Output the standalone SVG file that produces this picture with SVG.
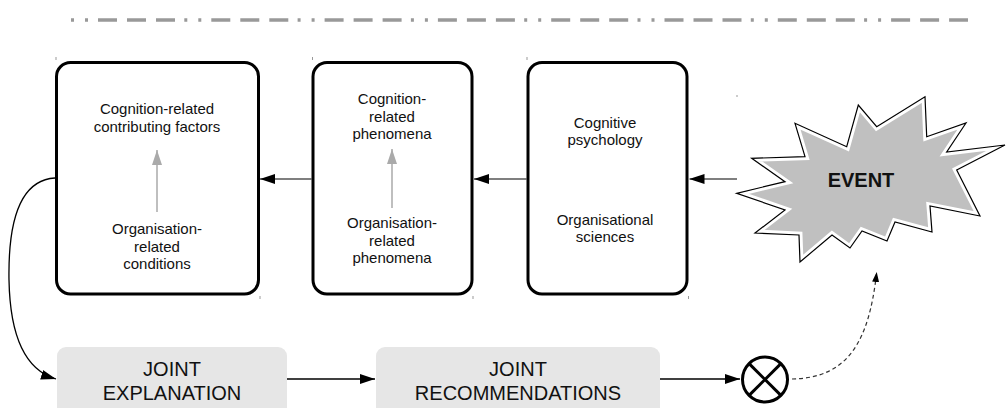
<svg xmlns="http://www.w3.org/2000/svg" width="1007" height="408" viewBox="0 0 1007 408">
<style>
.box{fill:#fff;stroke:#000;stroke-width:3}
.jbox{fill:#e6e6e6;stroke:none}
.t{font-family:"Liberation Sans",Arial,sans-serif;font-size:15px;fill:#111;text-anchor:middle}
.tb{font-family:"Liberation Sans",Arial,sans-serif;font-size:20px;fill:#111;text-anchor:middle}
.ev{font-family:"Liberation Sans",Arial,sans-serif;font-size:20px;font-weight:bold;fill:#111;text-anchor:middle}
.ga{stroke:#aaa;stroke-width:1.5;fill:none;marker-end:url(#gh)}
.ca{stroke:#555;stroke-width:1.4;fill:none;marker-end:url(#bh)}
.ka{stroke:#000;stroke-width:1.3;fill:none;marker-end:url(#bh)}
.tick{stroke:#999;stroke-width:1}
</style>
<defs>
<marker id="bh" markerUnits="userSpaceOnUse" markerWidth="15" markerHeight="10" refX="15" refY="5" orient="auto" viewBox="0 0 15 10"><path d="M0,0 L15,5 L0,10 z" fill="#000"/></marker>
<marker id="gh" markerUnits="userSpaceOnUse" markerWidth="15" markerHeight="10" refX="15" refY="5" orient="auto" viewBox="0 0 15 10"><path d="M0,0 L15,5 L0,10 z" fill="#aaa"/></marker>
<marker id="dh" markerUnits="userSpaceOnUse" markerWidth="10" markerHeight="7" refX="10" refY="3.5" orient="auto" viewBox="0 0 10 7"><path d="M0,0 L10,3.5 L0,7 z" fill="#000"/></marker>
</defs>
<rect width="1007" height="408" fill="#fff"/>
<line x1="71" y1="20" x2="968" y2="20" stroke="#999" stroke-width="3.5" stroke-dasharray="3 11 3 10 19 10 19 10 19 9.3"/>

<g id="node-factors">
<rect class="box" x="56.5" y="62.5" width="202" height="231.5" rx="14"/>
<text class="t" x="157" y="114">Cognition-related</text>
<text class="t" x="157" y="132">contributing factors</text>
<line class="ga" x1="157" y1="212" x2="157" y2="150"/>
<text class="t" x="157" y="234">Organisation-</text>
<text class="t" x="157" y="252">related</text>
<text class="t" x="157" y="269">conditions</text>
</g>

<g id="node-phenomena">
<rect class="box" x="313" y="62.5" width="159" height="231.5" rx="14"/>
<text class="t" x="392" y="104">Cognition-</text>
<text class="t" x="392" y="122">related</text>
<text class="t" x="392" y="139">phenomena</text>
<line class="ga" x1="392" y1="208" x2="392" y2="149"/>
<text class="t" x="392" y="228">Organisation-</text>
<text class="t" x="392" y="246">related</text>
<text class="t" x="392" y="263">phenomena</text>
</g>

<g id="node-sciences">
<rect class="box" x="528" y="62.5" width="159" height="231.5" rx="14"/>
<text class="t" x="605" y="128">Cognitive</text>
<text class="t" x="605" y="145">psychology</text>
<text class="t" x="605" y="225">Organisational</text>
<text class="t" x="605" y="242">sciences</text>
</g>

<g id="node-event">
<polygon points="736.7,193.3 785,181.7 751.7,158.3 805,156.7 795,123.3 846.7,146.7 858.3,105 876.7,126.7 925,96.7 926.7,136.7 966,123 946.7,152 1005,145 956.7,170 980,216 930,206 932,232 895,222 887,241 862,231 850,248 832,235 800,262 799,235 755,233 785,210" fill="#c0c0c0" stroke="#fff" stroke-width="7" stroke-linejoin="miter"/>
<polygon points="736.7,193.3 785,181.7 751.7,158.3 805,156.7 795,123.3 846.7,146.7 858.3,105 876.7,126.7 925,96.7 926.7,136.7 966,123 946.7,152 1005,145 956.7,170 980,216 930,206 932,232 895,222 887,241 862,231 850,248 832,235 800,262 799,235 755,233 785,210" fill="none" stroke="#000" stroke-width="1.2"/>
<text class="ev" x="861" y="187">EVENT</text>
</g>

<g id="node-explanation">
<rect class="jbox" x="57" y="347" width="230" height="80" rx="9"/>
<text class="tb" x="172" y="376">JOINT</text>
<text class="tb" x="172" y="400">EXPLANATION</text>
</g>

<g id="node-recommendations">
<rect class="jbox" x="376" y="347" width="284" height="80" rx="9"/>
<text class="tb" x="518" y="376">JOINT</text>
<text class="tb" x="518" y="400">RECOMMENDATIONS</text>
</g>

<g id="node-gate">
<circle cx="765" cy="379.5" r="22.5" fill="#fff" stroke="#000" stroke-width="3"/>
<line x1="749.1" y1="363.6" x2="780.9" y2="395.4" stroke="#000" stroke-width="3"/>
<line x1="780.9" y1="363.6" x2="749.1" y2="395.4" stroke="#000" stroke-width="3"/>
</g>

<g id="connectors">
<line class="ca" x1="737" y1="179" x2="689.5" y2="179"/>
<line class="ca" x1="527" y1="179" x2="474" y2="179"/>
<line class="ca" x1="312" y1="179" x2="260" y2="179"/>
<path class="ka" d="M55,178 C20,180 8,220 9,280 C10,335 25,370 56,379"/>
<line class="ka" x1="287" y1="379" x2="375" y2="379"/>
<line class="ka" x1="660" y1="379" x2="740" y2="379"/>
<path d="M792,379 C848,378 869,342 876.7,272" fill="none" stroke="#333" stroke-width="1.2" stroke-dasharray="4 3" marker-end="url(#dh)"/>
</g>

<g id="ticks">
<line class="tick" x1="56" y1="57" x2="56" y2="60"/>
<line class="tick" x1="260" y1="296" x2="260" y2="299"/>
<line class="tick" x1="312.5" y1="57" x2="312.5" y2="60"/>
<line class="tick" x1="473" y1="296" x2="473" y2="299"/>
<line class="tick" x1="527" y1="57" x2="527" y2="60"/>
<line class="tick" x1="688.5" y1="296" x2="688.5" y2="299"/>
<line class="tick" x1="737" y1="95" x2="737" y2="97"/>
</g>
</svg>
